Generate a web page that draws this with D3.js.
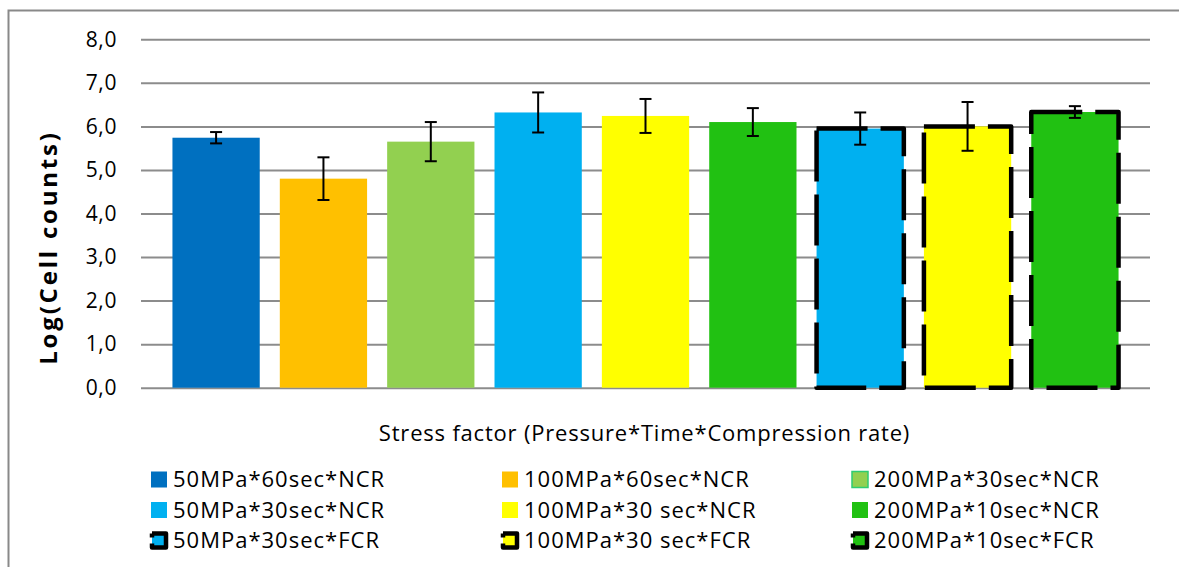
<!DOCTYPE html>
<html>
<head>
<meta charset="utf-8">
<script src="https://cdn.jsdelivr.net/npm/d3@7"></script>
<style>
  html, body { margin: 0; padding: 0; background: #fff; }
  svg { display: block; }
  text { font-family: "Open Sans", "DejaVu Sans", sans-serif; fill: #000; }
</style>
</head>
<body>
<svg id="chart" width="1179" height="567"></svg>
<script>
// ---- data ----
const categories = [
  "50MPa*60sec*NCR", "100MPa*60sec*NCR", "200MPa*30sec*NCR",
  "50MPa*30sec*NCR", "100MPa*30 sec*NCR", "200MPa*10sec*NCR",
  "50MPa*30sec*FCR", "100MPa*30 sec*FCR", "200MPa*10sec*FCR"
];
const values = [5.74, 4.80, 5.65, 6.32, 6.24, 6.10, 5.95, 6.00, 6.33];
const errors = [0.13, 0.49, 0.45, 0.46, 0.39, 0.32, 0.37, 0.56, 0.135];
const colors = ["#0070C0", "#FFC000", "#92D050", "#00B0F0", "#FFFF00", "#21C112", "#00B0F0", "#FFFF00", "#21C112"];
const dashed = [false, false, false, false, false, false, true, true, true];
const yTickValues = [0, 1, 2, 3, 4, 5, 6, 7, 8];
const yTickLabels = ["0,0", "1,0", "2,0", "3,0", "4,0", "5,0", "6,0", "7,0", "8,0"];
const yTitle = "Log(Cell counts)";
const xTitle = "Stress factor (Pressure*Time*Compression rate)";

// ---- layout ----
const svg = d3.select("#chart");
const plot = { left: 141, right: 1150, top: 39.3, bottom: 387.7 };

svg.append("rect")
  .attr("x", 8.5).attr("y", 10.5).attr("width", 1300).attr("height", 700)
  .attr("fill", "none").attr("stroke", "#898989").attr("stroke-width", 2);

const y = d3.scaleLinear().domain([0, 8]).range([plot.bottom, plot.top]);
const x = d3.scaleBand().domain(categories).range([plot.left, plot.right])
  .paddingInner(0.187).paddingOuter(0.293);

// gridlines + tick labels
const yAxis = d3.axisLeft(y)
  .tickValues(yTickValues)
  .tickFormat((d, i) => yTickLabels[i])
  .tickSize(-(plot.right - plot.left))
  .tickPadding(24);
const gy = svg.append("g").attr("transform", `translate(${plot.left},0)`).call(yAxis);
gy.select(".domain").remove();
gy.selectAll(".tick line").attr("stroke", "#8c8c8c").attr("stroke-width", 2);
gy.selectAll(".tick text")
  .attr("font-size", 21)
  .attr("font-family", "'Open Sans', sans-serif")
  .attr("letter-spacing", 0.6)
  .attr("fill", "#000");

// bars
svg.append("g").selectAll("rect")
  .data(categories)
  .join("rect")
  .attr("x", d => x(d))
  .attr("y", (d, i) => y(values[i]))
  .attr("width", x.bandwidth())
  .attr("height", (d, i) => y(0) - y(values[i]))
  .attr("fill", (d, i) => colors[i]);

// dashed outlines
svg.append("g").selectAll("rect")
  .data(categories.filter((d, i) => dashed[i]))
  .join("rect")
  .attr("x", d => x(d))
  .attr("y", d => y(values[categories.indexOf(d)]))
  .attr("width", x.bandwidth())
  .attr("height", d => y(0) - y(values[categories.indexOf(d)]))
  .attr("fill", "none")
  .attr("stroke", "#000")
  .attr("stroke-width", 4.5)
  .attr("stroke-dasharray", "51,13")
  .attr("stroke-linejoin", "round");

// error bars
const eg = svg.append("g").attr("stroke", "#000").attr("stroke-width", 2).attr("fill", "none");
categories.forEach((c, i) => {
  const cx = x(c) + x.bandwidth() / 2;
  const y1 = y(values[i] + errors[i]);
  const y2 = y(values[i] - errors[i]);
  eg.append("line").attr("x1", cx).attr("x2", cx).attr("y1", y1).attr("y2", y2);
  eg.append("line").attr("x1", cx - 6).attr("x2", cx + 6).attr("y1", y1).attr("y2", y1);
  eg.append("line").attr("x1", cx - 6).attr("x2", cx + 6).attr("y1", y2).attr("y2", y2);
});

// axis titles
svg.append("text")
  .attr("x", (plot.left + plot.right) / 2 - 1)
  .attr("y", 441)
  .attr("text-anchor", "middle")
  .attr("font-size", 22)
  .attr("letter-spacing", 0.8)
  .text(xTitle);

svg.append("text")
  .attr("transform", `translate(57,${(plot.top + plot.bottom) / 2 + 34}) rotate(-90)`)
  .attr("text-anchor", "middle")
  .attr("font-size", 24)
  .attr("font-weight", "bold")
  .attr("letter-spacing", 2.8)
  .text(yTitle);

// legend
const legCols = [151, 502, 852];
const legRows = [479.5, 510, 540.5];
const lg = svg.append("g");
categories.forEach((c, i) => {
  const cx = legCols[i % 3];
  const cy = legRows[Math.floor(i / 3)];
  const g = lg.append("g");
  if (dashed[i]) {
    g.append("rect")
      .attr("x", cx + 1).attr("y", cy - 7).attr("width", 14).attr("height", 14)
      .attr("fill", colors[i]).attr("stroke", "#000").attr("stroke-width", 4.5)
      .attr("stroke-dasharray", "46,6,4,0")
      .attr("stroke-linejoin", "round");
  } else {
    g.append("rect")
      .attr("x", cx).attr("y", cy - 8).attr("width", 16).attr("height", 16)
      .attr("fill", colors[i])
      .attr("stroke", i === 2 ? "#2ecc71" : "none").attr("stroke-width", 1.5);
  }
  g.append("text")
    .attr("x", cx + 22)
    .attr("y", cy)
    .attr("dy", "0.35em")
    .attr("font-size", 22)
    .attr("letter-spacing", 1)
    .text(c);
});
</script>
</body>
</html>
